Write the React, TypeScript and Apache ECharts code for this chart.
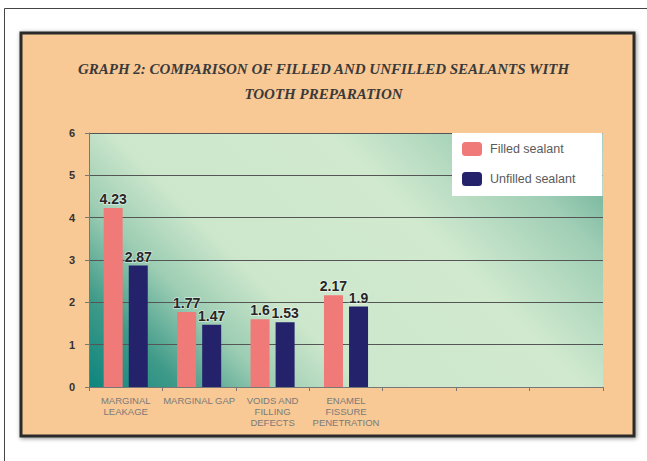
import React, { useEffect, useRef } from "react";
import * as echarts from "echarts";

const categories = [
  "MARGINAL\nLEAKAGE",
  "MARGINAL GAP",
  "VOIDS AND\nFILLING\nDEFECTS",
  "ENAMEL\nFISSURE\nPENETRATION",
  "",
  "",
  "",
];
const filledValues = [4.23, 1.77, 1.6, 2.17, null, null, null];
const unfilledValues = [2.87, 1.47, 1.53, 1.9, null, null, null];
const seriesNames = ["Filled sealant", "Unfilled sealant"];
const titleText =
  "GRAPH 2: COMPARISON OF FILLED AND UNFILLED SEALANTS WITH\nTOOTH PREPARATION";

function makeLabel() {
  return {
    show: true,
    position: "top",
    distance: 2,
    fontFamily: "'Liberation Sans', Arial, sans-serif",
    fontWeight: "bold",
    fontSize: 14,
    color: "#262626",
    textBorderColor: "rgba(255,255,255,0.55)",
    textBorderWidth: 1.5,
  };
}

export default function App() {
  const ref = useRef<HTMLDivElement>(null);
  useEffect(() => {
    if (!ref.current) return;
    const chart = echarts.init(ref.current, null, { renderer: "svg" });
    chart.setOption({
      animation: false,
      backgroundColor: "#ffffff",
      graphic: [
        {
          type: "polyline",
          shape: { points: [[4.5, 461], [4.5, 8.5], [647, 8.5]] },
          style: { stroke: "#444", lineWidth: 1, fill: "none" },
          z: -10,
          silent: true,
        },
        {
          type: "rect",
          shape: { x: 21, y: 33, width: 613, height: 403 },
          style: {
            fill: "#f8c895",
            stroke: "#2b2b2b",
            lineWidth: 3,
            shadowBlur: 4,
            shadowColor: "rgba(0,0,0,0.45)",
            shadowOffsetX: 1,
            shadowOffsetY: 1,
          },
          z: -10,
          silent: true,
        },
      ],
      title: {
        text: titleText,
        left: "center",
        top: 51,
        textStyle: {
          fontFamily: "'Liberation Serif', 'DejaVu Serif', serif",
          fontStyle: "italic",
          fontWeight: "bold",
          fontSize: 15,
          lineHeight: 25,
          color: "#3a3a3a",
        },
      },
      legend: {
        orient: "vertical",
        left: 452,
        top: 133,
        backgroundColor: "#ffffff",
        padding: [9, 27, 10, 10],
        itemWidth: 20,
        itemHeight: 14,
        itemGap: 16,
        data: seriesNames,
        textStyle: {
          fontFamily: "'Liberation Sans', Arial, sans-serif",
          fontSize: 12.5,
          color: "#5a5a5a",
          padding: [0, 0, 0, 3],
        },
      },
      grid: {
        left: 89,
        right: 44,
        top: 133,
        bottom: 74,
        show: true,
        borderWidth: 0,
        backgroundColor: new echarts.graphic.LinearGradient(
          89,
          387,
          473,
          3,
          [
            { offset: 0, color: "#0c857e" },
            { offset: 0.12, color: "#3f9a89" },
            { offset: 0.24, color: "#9ccdb3" },
            { offset: 0.36, color: "#cde7cc" },
            { offset: 0.64, color: "#d1eacf" },
            { offset: 0.84, color: "#9fceb5" },
            { offset: 1, color: "#5aa48c" },
          ],
          true
        ),
      },
      xAxis: {
        type: "category",
        data: categories,
        axisLine: { lineStyle: { color: "#777", width: 1 } },
        axisTick: { show: true, alignWithLabel: false, length: 4, lineStyle: { color: "#777" } },
        axisLabel: {
          interval: 0,
          margin: 8,
          fontFamily: "'Liberation Sans', Arial, sans-serif",
          fontSize: 9.5,
          lineHeight: 11,
          color: "#7a7a7a",
        },
      },
      yAxis: {
        type: "value",
        min: 0,
        max: 6,
        interval: 1,
        axisLine: { show: true, lineStyle: { color: "#777", width: 1 } },
        axisTick: { show: true, length: 4, lineStyle: { color: "#777" } },
        axisLabel: {
          margin: 14,
          fontFamily: "'Liberation Sans', Arial, sans-serif",
          fontWeight: "bold",
          fontSize: 11,
          color: "#333",
        },
        splitLine: { lineStyle: { color: "#555", width: 1 } },
      },
      series: [
        {
          name: seriesNames[0],
          type: "bar",
          data: filledValues,
          barWidth: 19,
          barGap: "32%",
          itemStyle: { color: "#f07a78" },
          label: makeLabel(),
        },
        {
          name: seriesNames[1],
          type: "bar",
          data: unfilledValues,
          barWidth: 19,
          itemStyle: { color: "#25226c" },
          label: makeLabel(),
        },
      ],
    });
    return () => chart.dispose();
  }, []);
  return (
    <div
      ref={ref}
      style={{ position: "absolute", left: 0, top: 0, width: 647, height: 461 }}
    />
  );
}
